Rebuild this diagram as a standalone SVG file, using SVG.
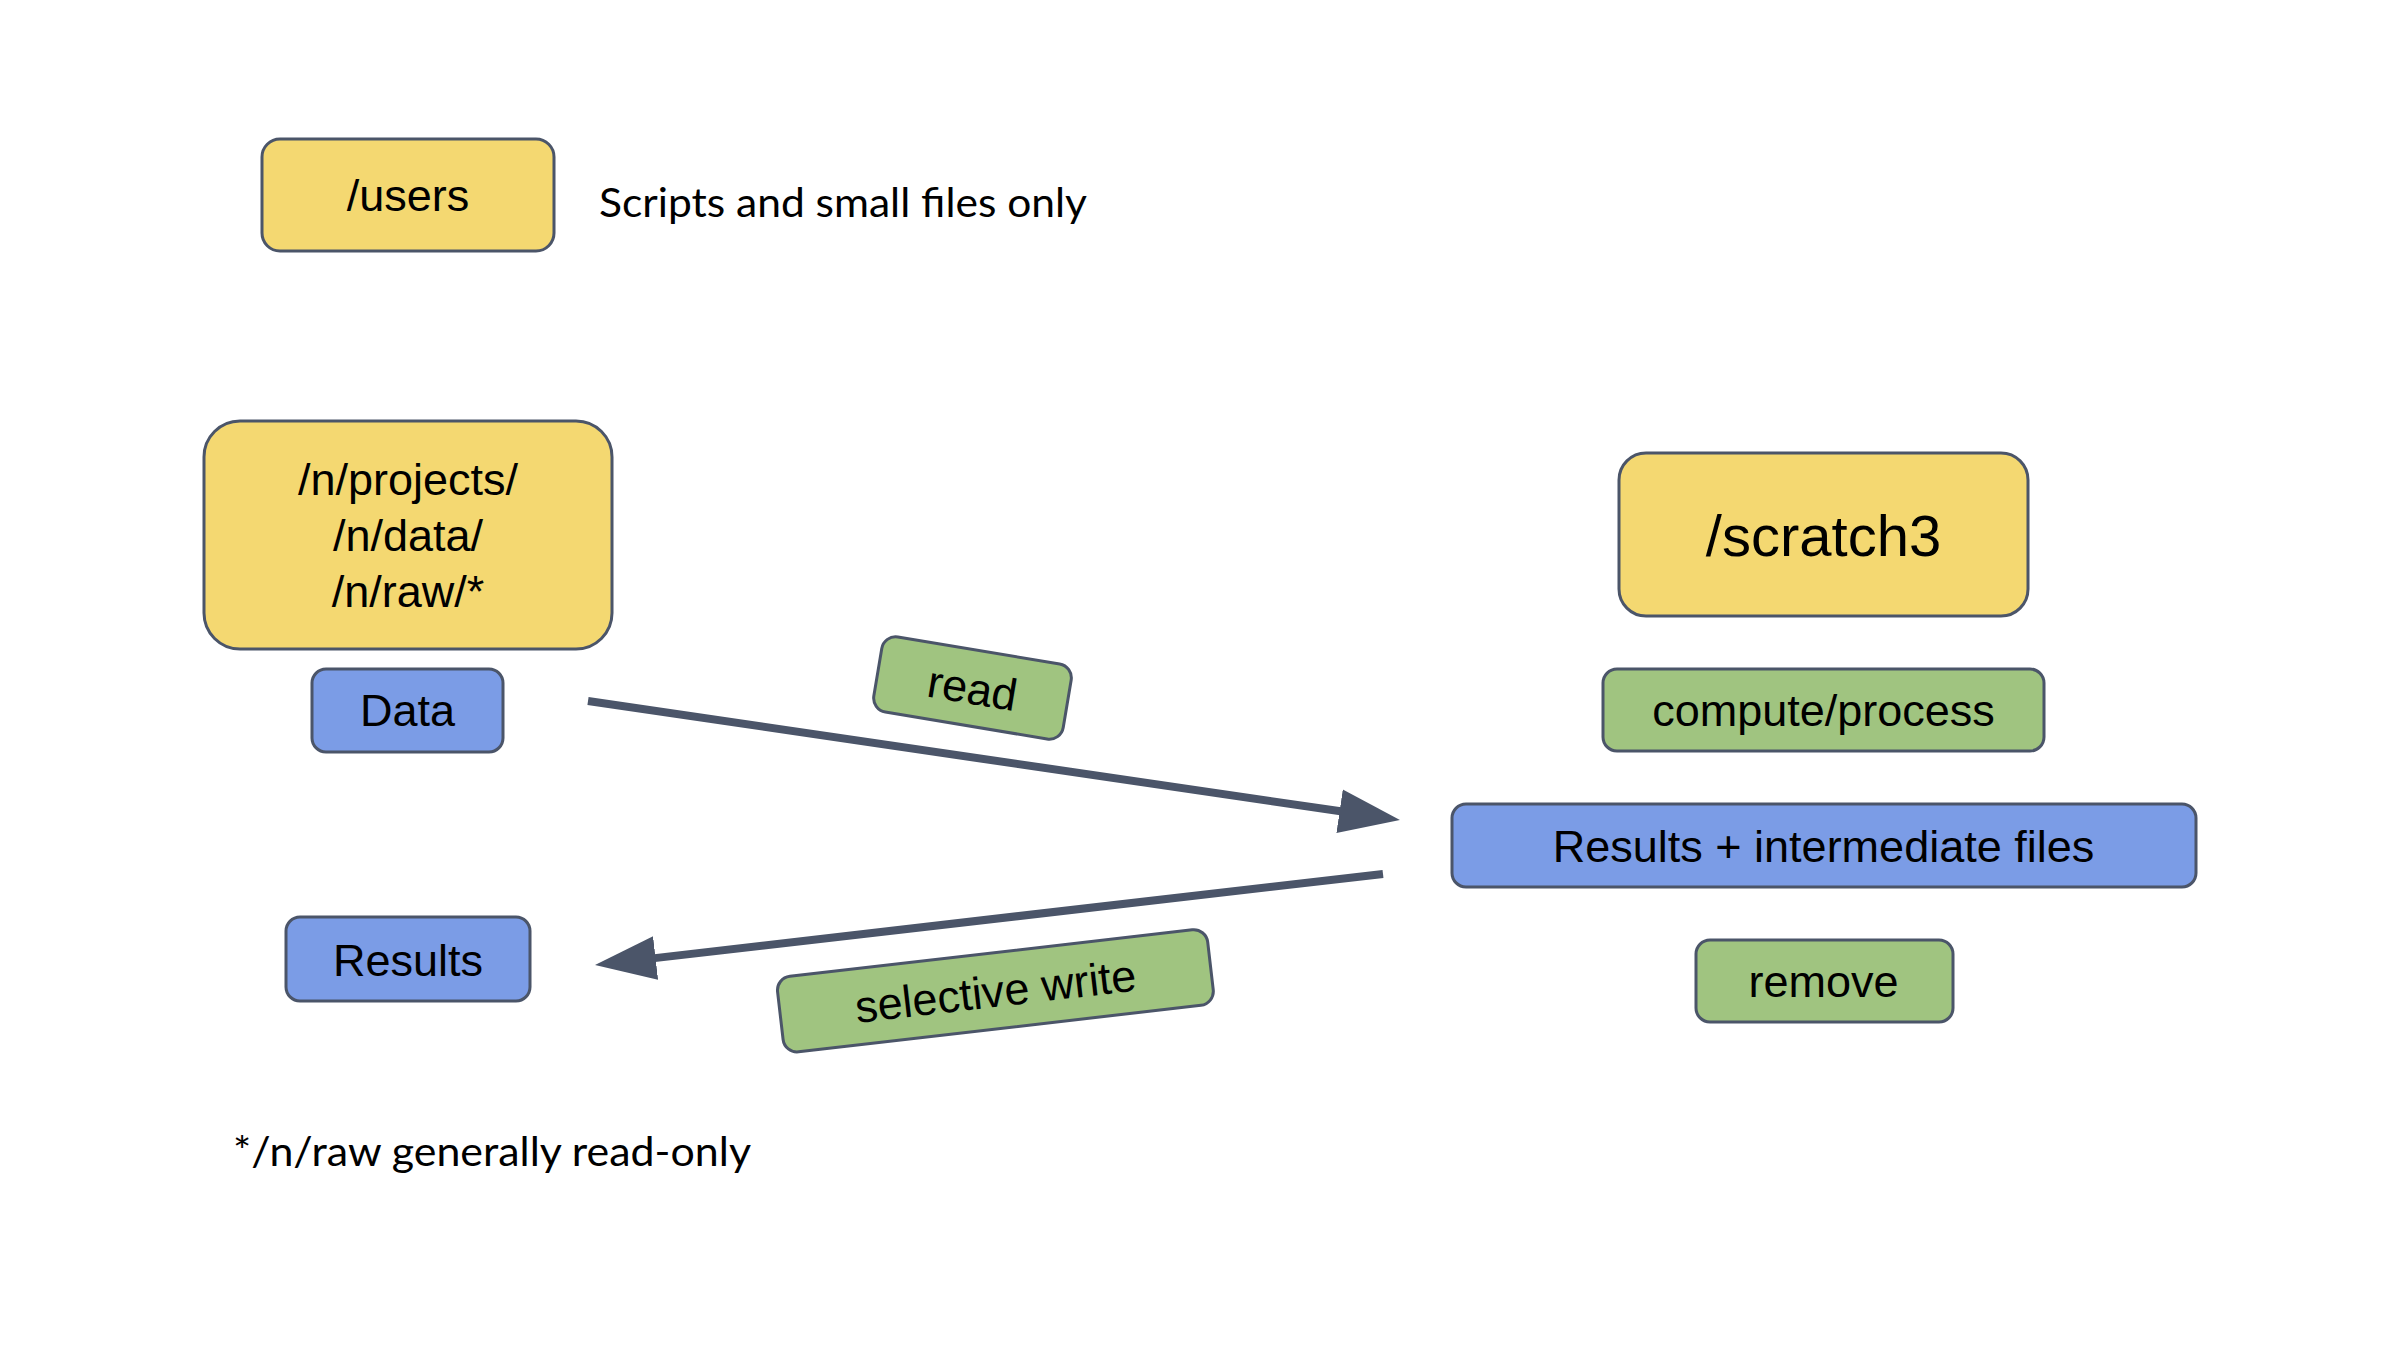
<svg xmlns="http://www.w3.org/2000/svg" width="2400" height="1350" viewBox="0 0 2400 1350">
  <style>
    .box { stroke: #4B5569; stroke-width: 3; }
    .yellow { fill: #F4D871; }
    .blue { fill: #7B9CE6; }
    .green { fill: #A0C480; }
    .lbl { font-family: "Liberation Sans", Arial, sans-serif; font-size: 45px; fill: #000; text-anchor: middle; }
    .note { font-family: Lato, "Open Sans", sans-serif; font-size: 40px; fill: #000; }
    .conn { stroke: #4B5569; stroke-width: 8; fill: none; }
  </style>
  <defs>
    <marker id="arrow" markerUnits="userSpaceOnUse" markerWidth="62" markerHeight="46" refX="1" refY="22" orient="auto" viewBox="0 0 62 46">
      <path d="M0,0 L61,22 L0,44 z" fill="#4B5569"/>
    </marker>
  </defs>
  <rect width="2400" height="1350" fill="#FFFFFF"/>

  <g id="users">
    <rect class="box yellow" x="262" y="139" width="292" height="112" rx="18"/>
    <text class="lbl" x="408" y="211">/users</text>
  </g>
  <g id="users-note">
    <text class="note" x="599" y="217" textLength="488" lengthAdjust="spacingAndGlyphs">Scripts and small files only</text>
  </g>

  <g id="projects">
    <rect class="box yellow" x="204" y="421" width="408" height="228" rx="36"/>
    <text class="lbl" x="408" y="495">/n/projects/</text>
    <text class="lbl" x="408" y="551">/n/data/</text>
    <text class="lbl" x="408" y="607">/n/raw/*</text>
  </g>
  <g id="data">
    <rect class="box blue" x="312" y="669" width="191" height="83" rx="14"/>
    <text class="lbl" x="407.5" y="726">Data</text>
  </g>
  <g id="results">
    <rect class="box blue" x="286" y="917" width="244" height="84" rx="14"/>
    <text class="lbl" x="408" y="976">Results</text>
  </g>

  <g id="scratch3">
    <rect class="box yellow" x="1619" y="453" width="409" height="163" rx="27"/>
    <text class="lbl" x="1823.5" y="556" style="font-size:58px">/scratch3</text>
  </g>
  <g id="compute">
    <rect class="box green" x="1603" y="669" width="441" height="82" rx="14"/>
    <text class="lbl" x="1823.5" y="726">compute/process</text>
  </g>
  <g id="intermediate">
    <rect class="box blue" x="1452" y="804" width="744" height="83" rx="14"/>
    <text class="lbl" x="1823.5" y="862">Results + intermediate files</text>
  </g>
  <g id="remove">
    <rect class="box green" x="1696" y="940" width="257" height="82" rx="14"/>
    <text class="lbl" x="1823.5" y="997">remove</text>
  </g>

  <g id="connectors">
    <path class="conn" d="M588,701 L1340.6,811.3" marker-end="url(#arrow)"/>
    <path class="conn" d="M1383,874 L654.6,958.1" marker-end="url(#arrow)"/>
  </g>

  <g id="read-label" transform="translate(972.5,688) rotate(9.5)">
    <rect class="box green" x="-96" y="-38" width="192" height="76" rx="14"/>
    <text class="lbl" x="0" y="16">read</text>
  </g>
  <g id="write-label" transform="translate(995.4,990.8) rotate(-6.6)">
    <rect class="box green" x="-216.5" y="-38" width="433" height="76" rx="14"/>
    <text class="lbl" x="0" y="16">selective write</text>
  </g>

  <g id="footnote">
    <text class="note" x="233" y="1166" textLength="518" lengthAdjust="spacingAndGlyphs">*/n/raw generally read-only</text>
  </g>
</svg>
